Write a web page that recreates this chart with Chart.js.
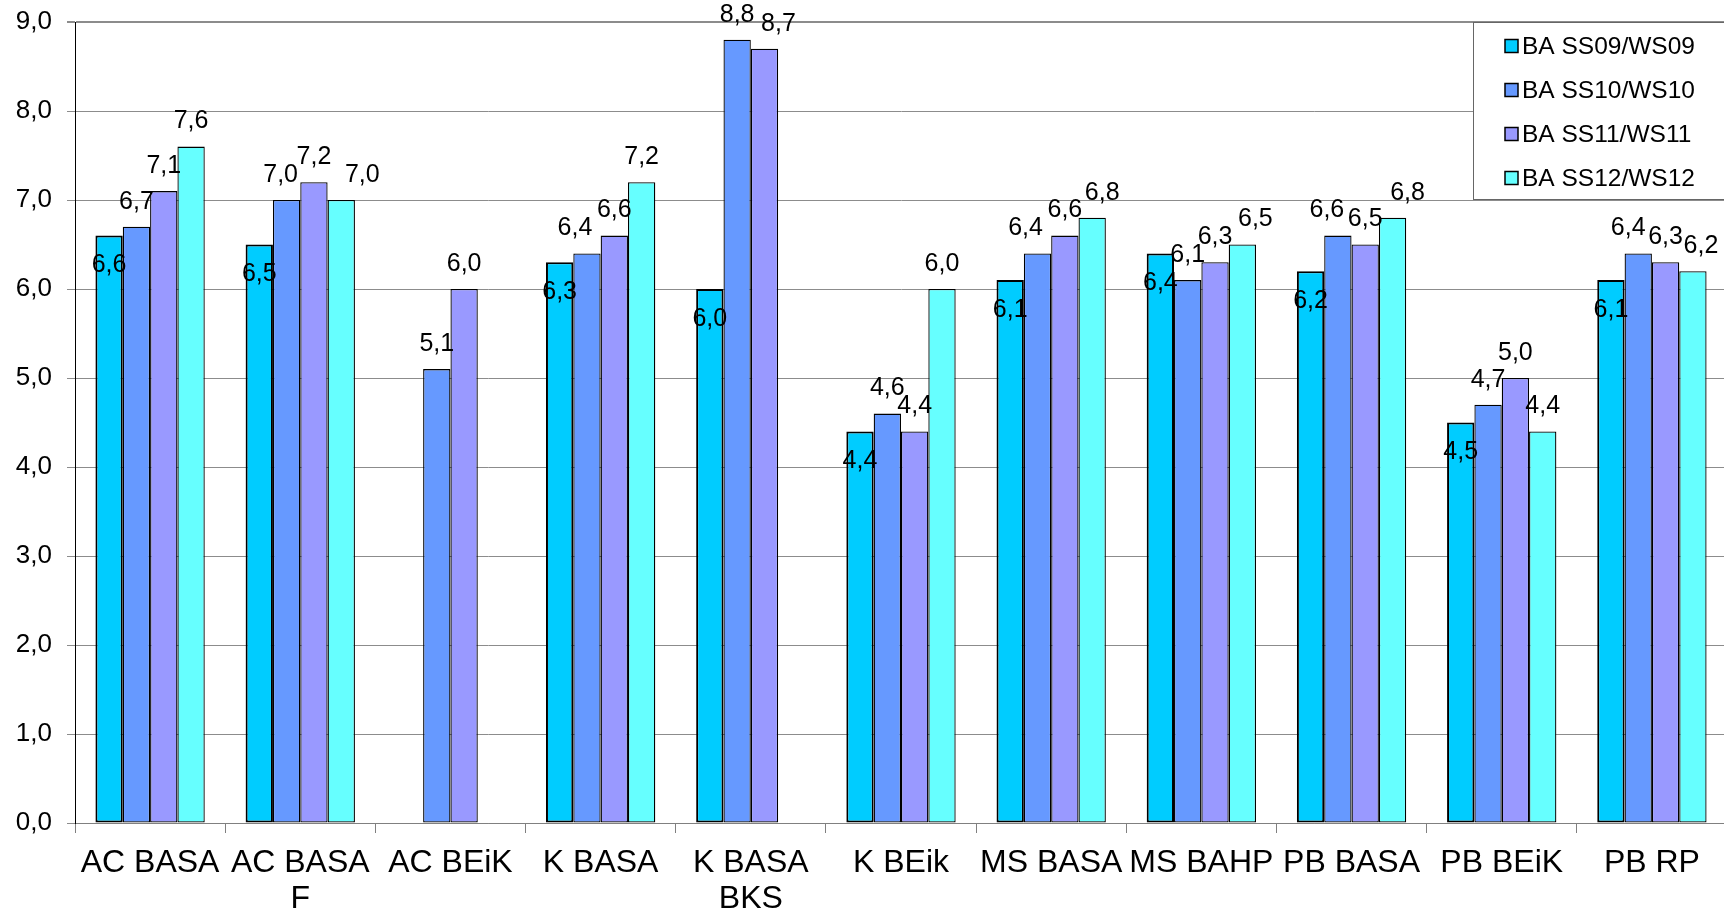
<!DOCTYPE html>
<html>
<head>
<meta charset="utf-8">
<script src="https://cdn.jsdelivr.net/npm/chart.js@4/dist/chart.umd.min.js"></script>
<style>
  html, body { margin: 0; padding: 0; background: #ffffff; overflow: hidden; }
  #wrap { width: 1724px; height: 910px; overflow: hidden; }
  canvas { display: block; }
</style>
</head>
<body>
<div id="wrap"><canvas id="chart" width="1728" height="910"></canvas></div>
<script>
// Categories (study programmes) and the four cohorts
const categories = [
  'AC BASA', ['AC BASA', 'F'], 'AC BEiK', 'K BASA', ['K BASA', 'BKS'], 'K BEik',
  'MS BASA', 'MS BAHP', 'PB BASA', 'PB BEiK', 'PB RP'
];
const seriesNames = ['BA SS09/WS09', 'BA SS10/WS10', 'BA SS11/WS11', 'BA SS12/WS12'];

const ss09 = [6.6, 6.5, null, 6.3, 6.0, 4.4, 6.1, 6.4, 6.2, 4.5, 6.1];
const ss10 = [6.7, 7.0, 5.1, 6.4, 8.8, 4.6, 6.4, 6.1, 6.6, 4.7, 6.4];
const ss11 = [7.1, 7.2, 6.0, 6.6, 8.7, 4.4, 6.6, 6.3, 6.5, 5.0, 6.3];
const ss12 = [7.6, 7.0, null, 7.2, null, 6.0, 6.8, 6.5, 6.8, 4.4, 6.2];

const yTicks = [0, 1, 2, 3, 4, 5, 6, 7, 8, 9];

const colors = ['#00CCFF', '#6699FF', '#9999FF', '#66FFFF'];
const FONT = "'Liberation Sans', Arial, sans-serif";

const fmt = v => v.toFixed(1).replace('.', ',');

// Small horizontal nudges for value labels that would otherwise collide
const labelNudge = {
  '1:1': -6, '3:1': 21, '1:3': -12, '2:4': 14, '1:6': -12, '3:6': 10,
  '3:7': 13, '1:8': -11, '3:8': 15, '1:10': -10, '3:10': 8
};

const valueLabels = {
  id: 'valueLabels',
  afterDatasetsDraw(chart) {
    const ctx = chart.ctx;
    ctx.save();
    ctx.font = `25px ${FONT}`;
    ctx.fillStyle = '#000';
    ctx.textAlign = 'center';
    ctx.textBaseline = 'middle';
    chart.data.datasets.forEach((ds, i) => {
      const meta = chart.getDatasetMeta(i);
      meta.data.forEach((bar, j) => {
        const v = ds.data[j];
        if (v === null || v === undefined) return;
        const dx = labelNudge[i + ':' + j] || 0;
        const dy = i === 0 ? 30 : -25;
        ctx.fillText(fmt(v), bar.x + dx, bar.y + dy);
      });
    });
    ctx.restore();
  }
};

const boxLegend = {
  id: 'boxLegend',
  afterDraw(chart) {
    const ctx = chart.ctx;
    const left = 1473, top = 22, bottom = 199, right = chart.width + 2;
    ctx.save();
    ctx.fillStyle = '#ffffff';
    ctx.fillRect(left, top, right - left, bottom - top);
    ctx.strokeStyle = '#666666';
    ctx.lineWidth = 1;
    ctx.strokeRect(left + 0.5, top + 0.5, right - left, bottom - top);
    ctx.font = `24.5px ${FONT}`;
    ctx.textAlign = 'left';
    ctx.textBaseline = 'middle';
    chart.data.datasets.forEach((ds, i) => {
      const cy = 46 + i * 44;
      ctx.fillStyle = ds.backgroundColor;
      ctx.fillRect(1505, cy - 6.5, 13, 13);
      ctx.strokeStyle = '#000';
      ctx.lineWidth = 1.5;
      ctx.strokeRect(1505, cy - 6.5, 13, 13);
      ctx.fillStyle = '#000';
      ctx.fillText(ds.label, 1522, cy + 1);
    });
    ctx.restore();
  }
};

const seriesData = [ss09, ss10, ss11, ss12];

new Chart(document.getElementById('chart'), {
  type: 'bar',
  data: {
    labels: categories,
    datasets: seriesData.map((d, i) => ({
      label: seriesNames[i],
      data: d,
      backgroundColor: colors[i],
      borderColor: '#000000',
      borderWidth: i === 0 ? 2 : 1.3,
      borderSkipped: false,
      categoryPercentage: 0.728,
      barPercentage: 1.0
    }))
  },
  options: {
    responsive: false,
    animation: false,
    devicePixelRatio: 1,
    layout: { padding: { top: 22, right: 1, left: 0, bottom: 0 } },
    plugins: { legend: { display: false }, tooltip: { enabled: false } },
    scales: {
      x: {
        grid: {
          offset: true, drawOnChartArea: false, drawTicks: true,
          tickLength: 10, color: '#808080', lineWidth: 1
        },
        border: { display: true, color: '#808080', width: 1 },
        ticks: {
          color: '#000', font: { family: FONT, size: 32, lineHeight: 1.12 },
          padding: 12, maxRotation: 0, minRotation: 0, autoSkip: false
        },
        afterFit(s) { s.height = 87; }
      },
      y: {
        min: 0, max: 9,
        afterBuildTicks(s) { s.ticks = yTicks.map(v => ({ value: v })); },
        grid: {
          color: '#8c8c8c',
          lineWidth: c => (c.tick && c.tick.value === 9 ? 2 : 1),
          tickLength: 8, drawTicks: true
        },
        border: { display: true, color: '#000000', width: 1 },
        ticks: {
          color: '#000', font: { family: FONT, size: 26 }, padding: 15,
          callback: v => fmt(v)
        },
        afterFit(s) { s.width = 75; s.paddingTop = 0; s.paddingBottom = 0; }
      }
    }
  },
  plugins: [valueLabels, boxLegend]
});
</script>
</body>
</html>
